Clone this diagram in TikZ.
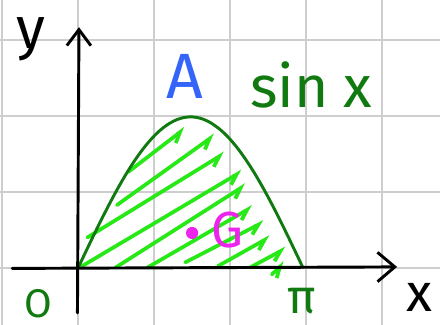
\documentclass[tikz,border=0pt]{standalone}
\usepackage{fontspec}
\setmainfont{Fira Sans}
\usetikzlibrary{arrows.meta}
\definecolor{darkgreen}{RGB}{16,122,16}
\definecolor{hatchgreen}{RGB}{40,232,24}
\definecolor{penpink}{RGB}{236,36,236}
\definecolor{penblue}{RGB}{52,100,248}
\definecolor{gridgray}{RGB}{206,206,206}

\begin{document}
\begin{tikzpicture}[x=1cm, y=0.993cm, line cap=round, line join=round,
    gridline/.style={gridgray, line width=0.75pt},
    axis/.style={black, line width=1.1pt},
    hatch/.style={hatchgreen, line width=1.4pt, -{Straight Barb[right, length=3.7pt, width=4.5pt]}},
    curve/.style={darkgreen, line width=1.1pt},
    pen/.style={inner sep=0pt}]
    \useasboundingbox (-1.03,-0.755) rectangle (4.765,3.55);
    % Lưới ô vuông
    \draw[gridline] (-1.03,-0.755) grid (4.765,3.55);

    % Miền gạch chéo dưới đồ thị
    \foreach \xa/\ya/\xb/\yb in {0.66/1.27/1.41/1.85, 0.51/0.83/1.80/1.76, 0.12/0.40/1.93/1.52,
        0.05/0.02/2.16/1.28, 0.49/0.00/2.21/1.10, 0.91/0.00/2.30/0.81, 1.41/0.07/2.45/0.61,
        1.84/0.02/2.53/0.41, 2.26/0.00/2.74/0.26, 2.55/-0.09/2.72/0.07}
        \draw[hatch] (\xa,\ya) -- (\xb,\yb);

    % Đồ thị y = sin x
    \draw[curve] plot[domain=0:2.96, samples=60, smooth] (\x, {2*sin(\x/2.96*180)});

    % Trục tọa độ
    \coordinate (xfrom) at (-0.87,-0.01);
    \coordinate (xto) at (4.20,0.01);
    \coordinate (yfrom) at (-0.01,-0.60);
    \coordinate (yto) at (0.01,3.19);
    \draw[axis, -{Straight Barb[length=6.5pt, width=11pt]}] (xfrom) -- (xto);
    \draw[axis, -{Straight Barb[length=6pt, width=9pt]}] (yfrom) -- (yto);

    % Nhãn
    \node[pen, font=\fontsize{20}{24}\selectfont] (xlabel) at (4.50,-0.40) {x};
    \node[pen, font=\fontsize{22}{26}\selectfont] (ylabel) at (-0.62,3.03) {y};
    \node[pen, darkgreen, font=\fontsize{15}{18}\selectfont] (origin) at (-0.53,-0.48) {O};
    \node[pen, darkgreen, font=\fontsize{18}{22}\selectfont] (pilabel) at (2.95,-0.45) {π};
    \node[pen, penblue, font=\fontsize{24}{28}\selectfont] (area) at (1.41,2.54) {A};
    \node[pen, darkgreen, font=\fontsize{22}{26}\selectfont] (func) at (3.07,2.42) {sin x};
    % Trọng tâm G
    \node[circle, fill=penpink, inner sep=0pt, minimum size=0.16cm] (gdot) at (1.50,0.46) {};
    \node[pen, penpink, font=\fontsize{19}{23}\selectfont] (glabel) at (1.97,0.50) {G};
\end{tikzpicture}
\end{document}
